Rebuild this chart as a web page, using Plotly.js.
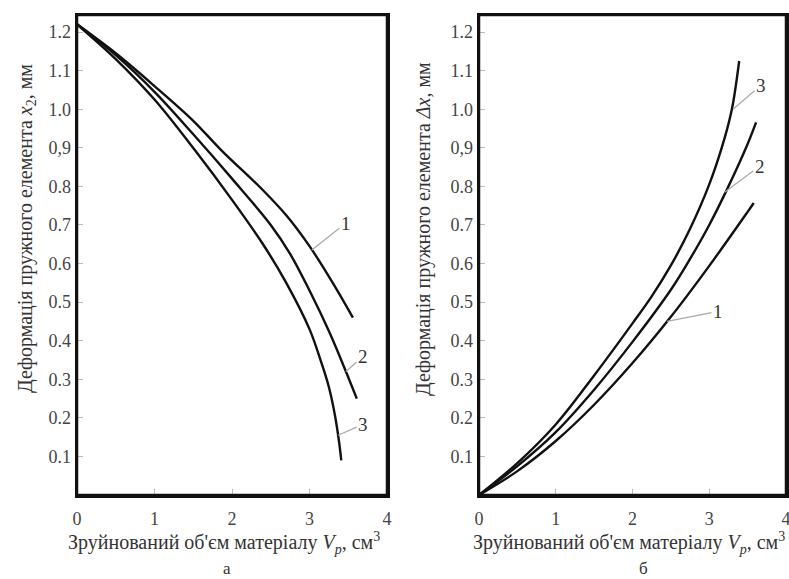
<!DOCTYPE html>
<html>
<head>
<meta charset="utf-8">
<script src="https://cdn.plot.ly/plotly-3.0.1.min.js"></script>
<style>html,body{margin:0;padding:0;background:#fff;}#chart{width:789px;height:579px;}</style>
</head>
<body>
<div id="chart"></div>
<script>
// Panel а: deformation x2 vs destroyed volume
const a1_x = [0, 0.5, 1.0, 1.5, 1.86, 2.4, 2.7, 3.0, 3.3, 3.56];
const a1_y = [1.22, 1.145, 1.06, 0.97, 0.894, 0.79, 0.725, 0.645, 0.55, 0.46];
const a2_x = [0, 0.5, 1.0, 1.5, 2.0, 2.5, 2.75, 3.0, 3.25, 3.45, 3.61];
const a2_y = [1.22, 1.14, 1.045, 0.935, 0.82, 0.70, 0.625, 0.53, 0.425, 0.33, 0.25];
const a3_x = [0, 0.5, 1.0, 1.52, 2.0, 2.4, 2.7, 3.0, 3.15, 3.25, 3.33, 3.38, 3.41];
const a3_y = [1.22, 1.13, 1.025, 0.894, 0.765, 0.65, 0.55, 0.43, 0.345, 0.28, 0.205, 0.14, 0.09];
// Panel б: deformation Δx vs destroyed volume
const b1_x = [0, 0.5, 1.0, 1.5, 2.0, 2.5, 3.0, 3.5, 3.58];
const b1_y = [0, 0.062, 0.14, 0.234, 0.342, 0.462, 0.594, 0.734, 0.757];
const b2_x = [0, 0.5, 1.0, 1.5, 2.0, 2.5, 2.75, 3.0, 3.25, 3.5, 3.61];
const b2_y = [0, 0.075, 0.163, 0.273, 0.397, 0.532, 0.612, 0.70, 0.80, 0.91, 0.966];
const b3_x = [0, 0.5, 1.0, 1.5, 2.0, 2.25, 2.5, 2.75, 3.0, 3.2, 3.3, 3.39];
const b3_y = [0, 0.083, 0.183, 0.31, 0.445, 0.515, 0.595, 0.69, 0.805, 0.925, 1.005, 1.125];

const yTickVals = [0.1, 0.2, 0.3, 0.4, 0.5, 0.6, 0.7, 0.8, 0.9, 1.0, 1.1, 1.2];
const yTickText = ["0.1", "0.2", "0.3", "0.4", "0.5", "0.6", "0.7", "0.8", "0,9", "1.0", "1.1", "1.2"];
const xTickVals = [0, 1, 2, 3, 4];
const xTickText = ["0", "1", "2", "3", "4"];

const curveLabelsA = [
  {label: "1", x: 3.03, y: 0.635, ax: 34, ay: -27},
  {label: "2", x: 3.47, y: 0.32, ax: 17, ay: -15},
  {label: "3", x: 3.37, y: 0.155, ax: 25, ay: -11}
];
const curveLabelsB = [
  {label: "1", x: 2.45, y: 0.45, ax: 51, ay: -10},
  {label: "2", x: 3.2, y: 0.785, ax: 35, ay: -26},
  {label: "3", x: 3.31, y: 1.0, ax: 28, ay: -24}
];

const serif = "Liberation Serif, DejaVu Serif, serif";
const line = {color: "#111", width: 2.4, shape: "spline", smoothing: 1};

const traces = [
  {x: a1_x, y: a1_y, xaxis: "x", yaxis: "y"},
  {x: a2_x, y: a2_y, xaxis: "x", yaxis: "y"},
  {x: a3_x, y: a3_y, xaxis: "x", yaxis: "y"},
  {x: b1_x, y: b1_y, xaxis: "x2", yaxis: "y2"},
  {x: b2_x, y: b2_y, xaxis: "x2", yaxis: "y2"},
  {x: b3_x, y: b3_y, xaxis: "x2", yaxis: "y2"}
].map(t => Object.assign(t, {type: "scatter", mode: "lines", line: line, hoverinfo: "skip", cliponaxis: false}));

const tickFont = {family: serif, size: 18, color: "#444"};
function xAxis(domain, anchor) {
  return {
    domain: domain, anchor: anchor, range: [0, 4], showgrid: false, zeroline: false,
    showline: true, mirror: true, linecolor: "#111", linewidth: 2.5,
    ticks: "inside", ticklen: 6, tickwidth: 1, tickcolor: "#bbb",
    tickmode: "array", tickvals: xTickVals, ticktext: xTickText,
    ticklabelstandoff: 6, ticklabeloverflow: "allow", tickfont: tickFont
  };
}
function yAxis(anchor) {
  return {
    domain: [0.145, 0.974], anchor: anchor, range: [0, 1.244], showgrid: false, zeroline: false,
    showline: true, mirror: true, linecolor: "#111", linewidth: 2.5,
    ticks: "inside", ticklen: 6, tickwidth: 1, tickcolor: "#bbb",
    tickmode: "array", tickvals: yTickVals, ticktext: yTickText,
    ticklabeloverflow: "allow", tickfont: tickFont
  };
}

const annFont = {family: serif, size: 19, color: "#333"};
const annotations = [];
curveLabelsA.forEach(c => annotations.push({xref: "x", yref: "y", x: c.x, y: c.y, ax: c.ax, ay: c.ay,
  text: c.label, showarrow: true, arrowhead: 0, arrowwidth: 1.3, arrowcolor: "#aaa", font: annFont}));
curveLabelsB.forEach(c => annotations.push({xref: "x2", yref: "y2", x: c.x, y: c.y, ax: c.ax, ay: c.ay,
  text: c.label, showarrow: true, arrowhead: 0, arrowwidth: 1.3, arrowcolor: "#aaa", font: annFont}));

const titleFont = {family: serif, size: 20, color: "#333"};
const xTitle = "Зруйнований об'єм матеріалу <i>V</i><sub><i>p</i></sub>, см<sup>3</sup>";
const base = {xref: "paper", yref: "paper", showarrow: false, xanchor: "center", yanchor: "middle", font: titleFont};
annotations.push(
  Object.assign({x: 224/789, y: 1 - 543/579, text: xTitle}, base),
  Object.assign({x: 629/789, y: 1 - 543/579, text: xTitle}, base),
  Object.assign({x: 227/789, y: 1 - 568/579, text: "а"}, base, {font: {family: serif, size: 17, color: "#333"}}),
  Object.assign({x: 643/789, y: 1 - 568/579, text: "б"}, base, {font: {family: serif, size: 17, color: "#333"}}),
  Object.assign({x: 27/789, y: 1 - 229/579, textangle: -90,
   text: "Деформація пружного елемента <i>x</i><sub>2</sub>, мм"}, base),
  Object.assign({x: 424/789, y: 1 - 229/579, textangle: -90,
   text: "Деформація пружного елемента <i>Δx</i>, мм"}, base)
);

const frameLine = {color: "#111", width: 2.5};
const shapes = [
  {type: "rect", xref: "x domain", yref: "y domain", x0: 0, x1: 1, y0: 0, y1: 1, line: frameLine, layer: "above"},
  {type: "rect", xref: "x2 domain", yref: "y2 domain", x0: 0, x1: 1, y0: 0, y1: 1, line: frameLine, layer: "above"}
];

const layout = {
  width: 789, height: 579, margin: {l: 0, r: 0, t: 0, b: 0},
  paper_bgcolor: "#fff", plot_bgcolor: "#fff", showlegend: false,
  xaxis: xAxis([77/789, 387/789], "y"),
  yaxis: yAxis("x"),
  xaxis2: xAxis([479/789, 786/789], "y2"),
  yaxis2: yAxis("x2"),
  annotations: annotations,
  shapes: shapes
};

Plotly.newPlot("chart", traces, layout, {displayModeBar: false, staticPlot: true});
</script>
</body>
</html>
